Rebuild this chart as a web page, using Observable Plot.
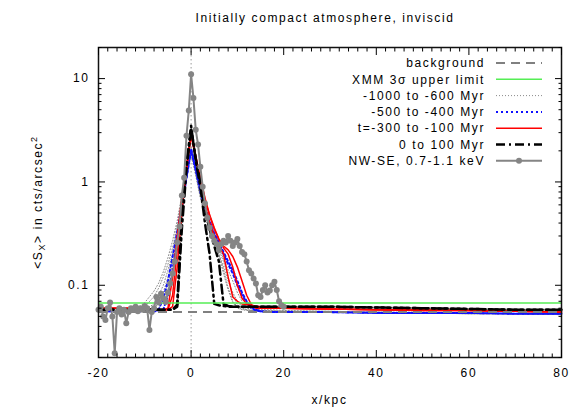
<!DOCTYPE html>
<html><head><meta charset="utf-8">
<script src="https://cdn.jsdelivr.net/npm/d3@7"></script>
<script src="https://cdn.jsdelivr.net/npm/@observablehq/plot@0.6"></script>
<style>
body{margin:0;background:#fff;font-family:"Liberation Sans",Arial,sans-serif;}
#title{width:586px;height:30px;box-sizing:border-box;padding-left:64px;text-align:center;font-size:12px;letter-spacing:1.6px;line-height:36px;color:#000;}
svg text{letter-spacing:1.6px;}
</style></head><body>
<div id="title">Initially compact atmosphere, inviscid</div>
<div id="chart"></div>
<script>
// ---------- data ----------
const xMajor = [-20, 0, 20, 40, 60, 80];
const xMinor = [-18,-16,-14,-12,-10,-8,-6,-4,-2,2,4,6,8,10,12,14,16,18,22,24,26,28,30,32,34,36,38,42,44,46,48,50,52,54,56,58,62,64,66,68,70,72,74,76,78];
const yMajor = [0.1, 1, 10];
const yMinor = [0.02,0.03,0.04,0.05,0.06,0.07,0.08,0.09,0.2,0.3,0.4,0.5,0.6,0.7,0.8,0.9,2,3,4,5,6,7,8,9,20];

const backgroundLevel = 0.055;
const xmmLimit = 0.0675;

const legendLabels = ["background","XMM 3σ upper limit","-1000 to -600 Myr","-500 to -400 Myr","t=-300 to -100 Myr","0 to 100 Myr","NW-SE, 0.7-1.1 keV"];

// simulated profiles on a common x grid (kpc)
const simX = [-20,-12,-10,-8,-7,-6,-5,-4,-3,-2,-1,0,1,2,3,4,5,6,7,8,9,10,11,12,13,14,15,17,20,30,40,50,60,70,80];
// -1000 to -600 Myr
const sim_m1000 = [0.057,0.058,0.068,0.088,0.105,0.135,0.185,0.27,0.42,0.75,1.3,2.2,1.4,0.85,0.55,0.4,0.3,0.23,0.18,0.14,0.11,0.085,0.07,0.062,0.06,0.059,0.058,0.058,0.057,0.056,0.055,0.055,0.054,0.053,0.053];
const sim_m900  = [0.057,0.057,0.062,0.078,0.094,0.12,0.16,0.23,0.37,0.68,1.25,2.1,1.3,0.8,0.52,0.37,0.27,0.2,0.15,0.11,0.085,0.07,0.062,0.06,0.059,0.058,0.057,0.057,0.056,0.056,0.055,0.054,0.054,0.053,0.053];
const sim_m800  = [0.056,0.056,0.058,0.066,0.08,0.1,0.14,0.2,0.33,0.62,1.2,2.0,1.25,0.75,0.5,0.36,0.28,0.22,0.17,0.12,0.08,0.065,0.06,0.058,0.057,0.057,0.056,0.056,0.056,0.055,0.055,0.054,0.053,0.053,0.052];
const sim_m700  = [0.056,0.056,0.056,0.059,0.068,0.085,0.12,0.18,0.3,0.58,1.15,1.9,1.2,0.72,0.48,0.34,0.26,0.2,0.14,0.095,0.07,0.062,0.059,0.058,0.057,0.057,0.056,0.056,0.056,0.055,0.054,0.054,0.053,0.053,0.052];
const sim_m600  = [0.056,0.056,0.056,0.057,0.06,0.072,0.1,0.16,0.28,0.56,1.12,1.85,1.15,0.7,0.46,0.33,0.25,0.19,0.13,0.09,0.068,0.06,0.058,0.057,0.057,0.056,0.056,0.056,0.055,0.055,0.054,0.054,0.053,0.053,0.052];
// -500 to -400 Myr
const sim_m500  = [0.056,0.056,0.056,0.056,0.058,0.075,0.11,0.19,0.33,0.6,1.1,2.0,1.3,0.8,0.55,0.4,0.31,0.25,0.2,0.16,0.13,0.1,0.08,0.068,0.06,0.057,0.056,0.055,0.055,0.055,0.054,0.054,0.054,0.053,0.053];
const sim_m400  = [0.056,0.056,0.056,0.056,0.056,0.058,0.08,0.14,0.27,0.55,1.1,2.1,1.35,0.85,0.58,0.42,0.32,0.26,0.21,0.17,0.14,0.11,0.085,0.07,0.062,0.058,0.056,0.055,0.055,0.055,0.054,0.054,0.054,0.053,0.053];
// -300 to -100 Myr
const sim_m300  = [0.06,0.06,0.059,0.058,0.058,0.058,0.06,0.12,0.3,0.7,1.4,2.8,1.7,1.0,0.6,0.4,0.3,0.24,0.2,0.12,0.077,0.07,0.066,0.065,0.064,0.063,0.062,0.061,0.06,0.059,0.058,0.058,0.057,0.056,0.055];
const sim_m200  = [0.06,0.06,0.059,0.058,0.058,0.058,0.058,0.08,0.22,0.6,1.4,3.0,1.8,1.1,0.7,0.48,0.36,0.28,0.23,0.2,0.15,0.1,0.075,0.066,0.062,0.061,0.06,0.06,0.06,0.059,0.058,0.057,0.057,0.056,0.055];
const sim_m100  = [0.06,0.06,0.059,0.058,0.058,0.058,0.058,0.062,0.15,0.5,1.3,2.9,1.75,1.05,0.68,0.47,0.35,0.28,0.24,0.22,0.19,0.15,0.11,0.08,0.065,0.06,0.06,0.06,0.06,0.059,0.058,0.057,0.057,0.056,0.055];
// 0 to 100 Myr
const sim_0     = [0.058,0.058,0.058,0.058,0.058,0.058,0.058,0.058,0.065,0.5,1.5,3.5,1.6,0.9,0.4,0.2,0.066,0.064,0.063,0.062,0.062,0.062,0.062,0.062,0.062,0.062,0.062,0.062,0.062,0.062,0.061,0.06,0.059,0.058,0.058];
const sim_100   = [0.058,0.058,0.058,0.058,0.058,0.058,0.058,0.058,0.062,0.35,1.3,3.3,1.7,1.0,0.55,0.35,0.24,0.17,0.066,0.063,0.062,0.062,0.062,0.062,0.062,0.062,0.062,0.062,0.062,0.062,0.061,0.06,0.059,0.058,0.058];

// observed NW-SE profile, 0.7-1.1 keV
const obsX = [-20,-19.5,-19,-18.5,-18,-17.5,-17,-16.5,-16,-15.5,-15,-14.5,-14,-13.5,-13,-12.5,-12,-11.5,-11,-10.5,-10,-9.5,-9,-8.5,-8,-7.5,-7,-6.5,-6,-5.5,-5,-4.5,-4,-3.5,-3,-2.5,-2,-1.5,-1,-0.5,0,0.5,1,1.5,2,2.5,3,3.5,4,4.5,5,5.5,6,6.5,7,7.5,8,8.5,9,9.5,10,10.5,11,11.5,12,12.5,13,13.5,14,14.5,15,15.5,16,16.5,17,17.5,18,18.5,19,19.5,20];
const obsY = [0.058,0.062,0.05,0.046,0.06,0.068,0.05,0.022,0.055,0.06,0.052,0.058,0.043,0.055,0.06,0.058,0.062,0.056,0.06,0.058,0.063,0.06,0.037,0.055,0.06,0.077,0.068,0.083,0.075,0.069,0.085,0.104,0.13,0.17,0.26,0.37,0.74,1.1,2.8,4.9,11,6.5,3.2,2.3,1.4,0.9,0.62,0.45,0.36,0.3,0.27,0.25,0.22,0.25,0.27,0.26,0.3,0.27,0.24,0.26,0.28,0.24,0.21,0.2,0.17,0.14,0.13,0.116,0.104,0.08,0.077,0.09,0.1,0.085,0.089,0.1,0.108,0.09,0.07,0.064,0.062];

// ---------- tables ----------
const groups = [
  {key:"g", curves:[sim_m1000,sim_m900,sim_m800,sim_m700,sim_m600]},
  {key:"b", curves:[sim_m500,sim_m400]},
  {key:"r", curves:[sim_m300,sim_m200,sim_m100]},
  {key:"k", curves:[sim_0,sim_100]}
];
const simRows = {};
for (const g of groups) {
  simRows[g.key] = g.curves.flatMap((c, ci) => simX.map((x, i) => ({x, y: c[i], s: ci})));
}
const obs = obsX.map((x, i) => ({x, y: obsY[i]}));

// ---------- styles ----------
const st = {
  bg:  {stroke:"#808080", strokeWidth:2, strokeDasharray:"9,6"},
  xmm: {stroke:"#55ee55", strokeWidth:1.5},
  g:   {stroke:"#8a8a8a", strokeWidth:1, strokeDasharray:"1,2"},
  b:   {stroke:"#1010ff", strokeWidth:2, strokeDasharray:"2,3"},
  r:   {stroke:"#ff0000", strokeWidth:1.5},
  k:   {stroke:"#000000", strokeWidth:2.5, strokeDasharray:"9,4,2,4"},
  o:   {stroke:"#858585", strokeWidth:2}
};

const W = 586, H = 380, mL = 98, mR = 25, mT = 17, mB = 53;
const font = "Liberation Sans, Arial, sans-serif";

const plot = Plot.plot({
  width: W, height: H,
  marginLeft: mL, marginRight: mR, marginTop: mT, marginBottom: mB,
  x: {domain: [-20, 80]},
  y: {type: "log", domain: [0.02, 20]},
  style: {fontFamily: font, fontSize: "12px", color: "black", background: "white", overflow: "visible"},
  marks: [
    Plot.ruleX([0], {stroke:"#999", strokeWidth:1, strokeDasharray:"1.5,2.5"}),
    Plot.line(simRows.g, {x:"x", y:"y", z:"s", ...st.g}),
    Plot.line(simRows.b, {x:"x", y:"y", z:"s", ...st.b}),
    Plot.line(simRows.r, {x:"x", y:"y", z:"s", ...st.r}),
    Plot.line(simRows.k, {x:"x", y:"y", z:"s", ...st.k}),
    Plot.ruleY([backgroundLevel], st.bg),
    Plot.ruleY([xmmLimit], st.xmm),
    Plot.line(obs, {x:"x", y:"y", ...st.o}),
    Plot.dot(obs, {x:"x", y:"y", r:3, fill:"#858585", stroke:"none"}),
    Plot.frame({stroke:"#111", strokeWidth:1.5}),
    // axes: labels + inward ticks on all sides
    Plot.axisX({anchor:"bottom", ticks:xMajor, tickSize:0, tickPadding:11, tickFormat:d=>String(d), label:null}),
    Plot.axisX({anchor:"bottom", ticks:xMajor, tickSize:-7, fill:"none", label:null}),
    Plot.axisX({anchor:"bottom", ticks:xMinor, tickSize:-3.5, fill:"none", label:null}),
    Plot.axisX({anchor:"top", ticks:xMajor, tickSize:-7, fill:"none", label:null}),
    Plot.axisX({anchor:"top", ticks:xMinor, tickSize:-3.5, fill:"none", label:null}),
    Plot.axisY({anchor:"left", ticks:yMajor, tickSize:0, tickPadding:9, tickFormat:d=>String(d), label:null}),
    Plot.axisY({anchor:"left", ticks:yMajor, tickSize:-7, fill:"none", label:null}),
    Plot.axisY({anchor:"left", ticks:yMinor, tickSize:-3.5, fill:"none", label:null}),
    Plot.axisY({anchor:"right", ticks:yMajor, tickSize:-7, fill:"none", label:null}),
    Plot.axisY({anchor:"right", ticks:yMinor, tickSize:-3.5, fill:"none", label:null})
  ]
});
document.getElementById("chart").appendChild(plot);

// ---------- axis titles and legend ----------
const svg = d3.select(plot);
const fx0 = mL, fx1 = W - mR, fy0 = mT, fy1 = H - mB;
svg.append("text")
  .attr("x", (fx0 + fx1) / 2).attr("y", fy1 + 43)
  .attr("text-anchor", "middle").attr("dy", "0.35em")
  .attr("font-size", 12).attr("font-family", font).attr("fill", "black")
  .text("x/kpc");
const yl = svg.append("text")
  .attr("transform", `translate(38,${(fy0 + fy1) / 2}) rotate(-90)`)
  .attr("text-anchor", "middle").attr("dy", "0.35em")
  .attr("font-size", 12).attr("font-family", font).attr("fill", "black");
yl.append("tspan").text("<S");
yl.append("tspan").attr("font-size", 9).attr("dy", "3").text("X");
yl.append("tspan").attr("dy", "-3").text("> in cts/arcsec");
yl.append("tspan").attr("font-size", 9).attr("dy", "-5").text("2");

const legendStyles = [st.bg, st.xmm, st.g, st.b, st.r, st.k, st.o];
const lg = svg.append("g").attr("font-family", font).attr("font-size", 12);
const textRight = fx1 - 76, lineX0 = fx1 - 65, lineX1 = fx1 - 19;
legendLabels.forEach((lab, i) => {
  const y = fy0 + 16 + i * 16.3;
  lg.append("text").attr("x", textRight).attr("y", y).attr("dy", "0.35em")
    .attr("text-anchor", "end").attr("fill", "black").text(lab);
  const s = legendStyles[i];
  lg.append("line").attr("x1", lineX0).attr("x2", lineX1).attr("y1", y).attr("y2", y)
    .attr("stroke", s.stroke).attr("stroke-width", s.strokeWidth)
    .attr("stroke-dasharray", s.strokeDasharray || null);
  if (i === legendLabels.length - 1) {
    lg.append("circle").attr("cx", (lineX0 + lineX1) / 2).attr("cy", y).attr("r", 3).attr("fill", s.stroke);
  }
});
</script>
</body></html>
